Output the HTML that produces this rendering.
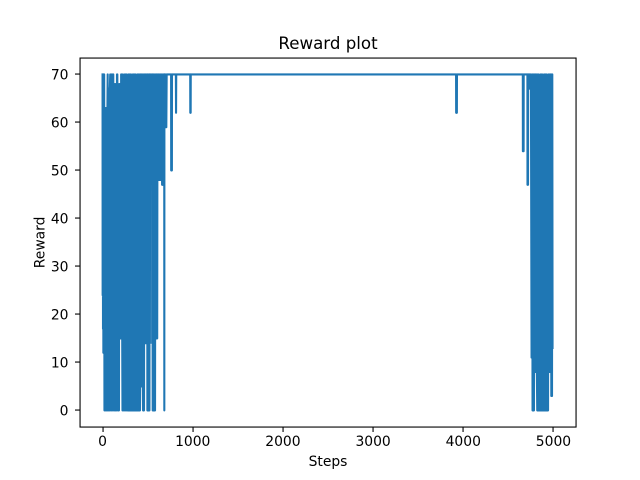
<!DOCTYPE html>
<html>
<head>
<meta charset="utf-8">
<title>Reward plot</title>
<style>
html,body{margin:0;padding:0;background:#fff;}
svg{display:block;}
text{font-family:"DejaVu Sans",sans-serif;fill:#000;}
</style>
</head>
<body>
<svg id="chart" width="640" height="480" viewBox="0 0 640 480" xmlns="http://www.w3.org/2000/svg">
<rect x="0" y="0" width="640" height="480" fill="#ffffff"/>
<text x="328" y="49" font-size="16.67" text-anchor="middle">Reward plot</text>
<text x="328" y="466" font-size="13.89" text-anchor="middle">Steps</text>
<text x="0" y="0" font-size="13.89" text-anchor="middle" transform="translate(44.5,242.4) rotate(-90)">Reward</text>
<g id="ticks"></g>
<polyline id="series" fill="none" stroke="#1f77b4" stroke-width="2.08" stroke-linejoin="round" stroke-linecap="square"></polyline>
<g id="spines" fill="#000"></g>
</svg>
<script>
const xTickValues = [0, 1000, 2000, 3000, 4000, 5000];
const xTickLabels = ["0", "1000", "2000", "3000", "4000", "5000"];
const yTickValues = [0, 10, 20, 30, 40, 50, 60, 70];
const yTickLabels = ["0", "10", "20", "30", "40", "50", "60", "70"];
const steps = [
0,1,3,5,7,9,12,15,18,21,24,27,30,33,36,39,42,45,48,51,54,57,60,63,66,69,72,75,78,81,85,
90,95,100,105,110,115,119,123,127,131,135,139,143,147,151,156,160,164,168,172,176,177,180,182,186,190,194,198,202,205,206,210,214,218,221,
226,231,236,241,246,251,256,261,266,271,276,281,286,291,296,301,306,311,316,321,326,331,336,341,346,351,356,361,366,371,376,381,386,391,396,401,406,411,
415,418,422,426,430,434,438,442,446,449,452,456,460,463,467,471,475,479,483,487,491,495,497,501,505,509,513,517,520,523,525,527,530,534,538,542,546,549,550,552,556,
560,564,568,572,577,582,586,590,594,598,602,606,609,612,616,620,624,628,632,636,640,644,648,652,656,660,664,668,672,676,680,684,685,686,695,698,703,707,711,
760,761,765,769,770,813,815,817,972,973,975,977,978,3920,3921,3925,3929,3930,4660,4661,4665,4669,4670,4711,4712,4715,4718,4719,4738,4741,4745,4750,4757,4763,4768,4772,4776,4780,4784,4788,4792,4796,4800,4804,4808,4812,4816,4820,
4825,4830,4835,4840,4845,4850,4855,4860,4865,4870,4875,4880,4885,4890,4895,4900,4905,4910,4915,4920,4925,4930,4935,4940,4945,4950,4955,4960,
4964,4968,4972,4976,4980,4984,4987,4990,4993,4995,4997,5000
];
const rewards = [
70,24,70,17,70,12,70,12,70,0,63,0,63,0,63,0,63,0,63,0,63,70,0,67,0,67,0,67,0,67,70,
0,70,0,70,0,70,70,0,68,0,68,0,68,0,68,0,70,70,0,68,0,64,0,0,68,15,68,15,68,15,70,15,70,15,0,
70,0,69,0,70,0,70,0,70,0,69,0,70,0,70,0,70,0,70,0,69,0,70,0,70,0,70,0,70,0,69,0,70,0,70,0,70,0,
0,70,5,70,5,70,5,70,5,0,70,0,0,70,14,70,14,70,14,70,14,70,0,70,0,70,0,70,0,70,14,70,48,70,48,70,48,70,14,70,0,
70,0,70,0,70,0,70,15,70,15,70,15,70,48,70,48,70,48,70,48,70,48,70,48,70,47,70,47,70,47,70,70,0,70,70,59,70,59,70,
70,50,70,50,70,70,62,70,70,62,70,62,70,70,62,70,62,70,70,54,70,54,70,70,47,70,47,70,70,67,70,70,11,70,0,70,0,70,0,70,8,70,8,70,8,70,8,0,
70,0,70,0,69,0,70,0,70,0,70,0,69,0,70,0,70,0,70,0,70,0,69,0,
70,8,70,8,70,8,70,3,70,3,70,13
];

const NS = "http://www.w3.org/2000/svg";
const axLeft = 80, axRight = 576, axTop = 58, axBottom = 427;
function xScale(v){ return 102.55 + v * (450.91 / 5000); }
function yScale(v){ return 410.4 - v * 4.8; }

document.getElementById("series").setAttribute("points",
  steps.map(function(s, i){ return xScale(s).toFixed(2) + "," + yScale(rewards[i]).toFixed(2); }).join(" "));

const tickGroup = document.getElementById("ticks");
xTickValues.forEach(function(v, i){
  const px = Math.round(xScale(v));
  const mark = document.createElementNS(NS, "rect");
  
  
  mark.setAttribute("x", px - 0.5);
  mark.setAttribute("y", axBottom);
  mark.setAttribute("width", 1.1);
  mark.setAttribute("height", 5);
  tickGroup.appendChild(mark);
  const label = document.createElementNS(NS, "text");
  
  
  label.setAttribute("x", xScale(v));
  label.setAttribute("y", 446);
  label.setAttribute("font-size", "13.89");
  label.setAttribute("text-anchor", "middle");
  label.textContent = xTickLabels[i];
  tickGroup.appendChild(label);
});
yTickValues.forEach(function(v, i){
  const py = yScale(v);
  const mark = document.createElementNS(NS, "rect");
  
  
  mark.setAttribute("x", axLeft - 5);
  mark.setAttribute("y", Math.round(py) - 0.5);
  mark.setAttribute("width", 5);
  mark.setAttribute("height", 1.1);
  tickGroup.appendChild(mark);
  const label = document.createElementNS(NS, "text");
  
  
  label.setAttribute("x", 68.5);
  label.setAttribute("y", py + 5.2);
  label.setAttribute("font-size", "13.89");
  label.setAttribute("text-anchor", "end");
  label.textContent = yTickLabels[i];
  tickGroup.appendChild(label);
});

const spineGroup = document.getElementById("spines");
const spineLeft = document.createElementNS(NS, "rect");


spineLeft.setAttribute("x", axLeft - 0.5);
spineLeft.setAttribute("y", axTop - 0.5);
spineLeft.setAttribute("width", 1.1);
spineLeft.setAttribute("height", axBottom - axTop + 1);
spineGroup.appendChild(spineLeft);
const spineRight = document.createElementNS(NS, "rect");


spineRight.setAttribute("x", axRight - 0.5);
spineRight.setAttribute("y", axTop - 0.5);
spineRight.setAttribute("width", 1.1);
spineRight.setAttribute("height", axBottom - axTop + 1);
spineGroup.appendChild(spineRight);
const spineTop = document.createElementNS(NS, "rect");


spineTop.setAttribute("x", axLeft - 0.5);
spineTop.setAttribute("y", axTop - 0.5);
spineTop.setAttribute("width", axRight - axLeft + 1);
spineTop.setAttribute("height", 1.1);
spineGroup.appendChild(spineTop);
const spineBottom = document.createElementNS(NS, "rect");


spineBottom.setAttribute("x", axLeft - 0.5);
spineBottom.setAttribute("y", axBottom - 0.5);
spineBottom.setAttribute("width", axRight - axLeft + 1);
spineBottom.setAttribute("height", 1.1);
spineGroup.appendChild(spineBottom);
</script>
</body>
</html>
